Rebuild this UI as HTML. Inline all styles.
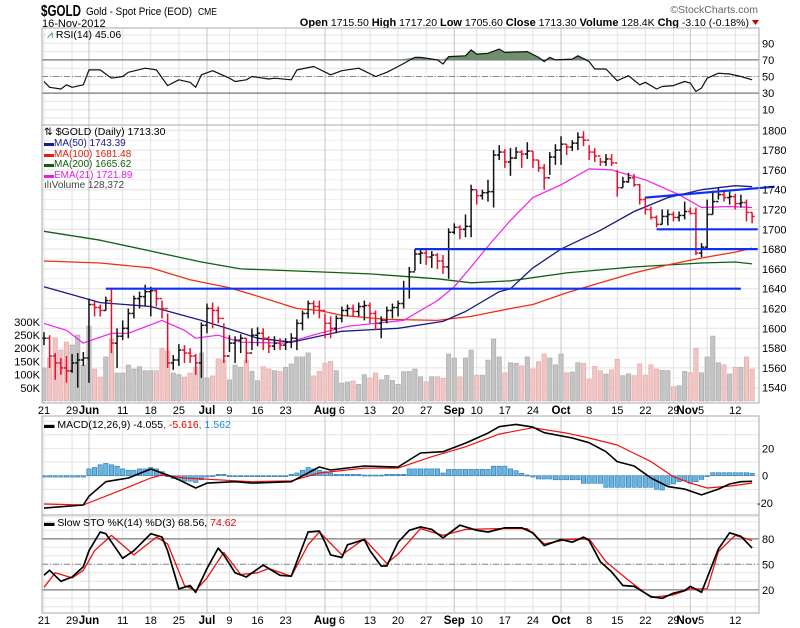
<!DOCTYPE html>
<html><head><meta charset="utf-8"><title>$GOLD chart</title>
<style>
html,body{margin:0;padding:0;background:#fff;}
svg{display:block;font-family:"Liberation Sans",sans-serif;}
</style></head>
<body>
<svg id="chart" width="800" height="628" viewBox="0 0 800 628" xmlns="http://www.w3.org/2000/svg">
<rect x="0" y="0" width="800" height="628" fill="#fff"/>
<g>
<text x="41" y="16" font-size="16" font-weight="bold" fill="#000" textLength="40" lengthAdjust="spacingAndGlyphs">$GOLD</text>
<text x="86" y="15" font-size="11" fill="#000" textLength="106" lengthAdjust="spacingAndGlyphs">Gold - Spot Price (EOD)</text>
<text x="198" y="15" font-size="10" fill="#000" textLength="19" lengthAdjust="spacingAndGlyphs">CME</text>
<text x="42" y="27" font-size="11" fill="#000">16-Nov-2012</text>
<text x="758" y="13" font-size="10.5" fill="#666" text-anchor="end">©StockCharts.com</text>
<text x="749" y="26" font-size="10.5" fill="#000" text-anchor="end"><tspan font-weight="bold" font-size="11">Open</tspan> 1715.50  <tspan font-weight="bold" font-size="11">High</tspan> 1717.20  <tspan font-weight="bold" font-size="11">Low</tspan> 1705.60  <tspan font-weight="bold" font-size="11">Close</tspan> 1713.30  <tspan font-weight="bold" font-size="11">Volume</tspan> 128.4K  <tspan font-weight="bold" font-size="11">Chg</tspan> -3.10 (-0.18%)</text>
<polygon points="752,20 759,20 755.5,25" fill="#c00"/>
</g>
<g id="grid"></g>
<g id="vol"></g>
<g id="lines"></g>
<g id="bars"></g>
<g id="annot"></g>
<g id="frames"></g>
<g id="labels"></g>
<g font-size="10.5">
<text x="47" y="38" fill="#000"><tspan fill="#3a7a3a">⩘</tspan> RSI(14) 45.06</text>
<text x="44" y="135" fill="#000">⇅ $GOLD (Daily) 1713.30</text>
<text x="44" y="146" fill="#1a1a8a" font-size="10">▬MA(50) 1743.39</text>
<text x="44" y="157" fill="#e02010" font-size="10">▬MA(100) 1681.48</text>
<text x="44" y="167" fill="#106010" font-size="10">▬MA(200) 1665.62</text>
<text x="44" y="178" fill="#e020e0" font-size="10">▬EMA(21) 1721.89</text>
<text x="44" y="188" fill="#444" font-size="10">ılıVolume 128,372</text>
<text x="44" y="428" fill="#000">▬ MACD(12,26,9) -4.055<tspan fill="#e00">, -5.616</tspan><tspan fill="#1a8ad0">, 1.562</tspan></text>
<text x="44" y="526" fill="#000">▬ Slow STO %K(14) %D(3) 68.56, <tspan fill="#e00">74.62</tspan></text>
</g>
</svg>
<script>
const closes=[1590,1572,1565,1560,1557,1565,1568,1570,1624,1621,1618,1628,1585,1592,1600,1615,1630,1632,1637,1638,1630,1620,1565,1568,1578,1575,1572,1565,1603,1620,1618,1610,1572,1585,1588,1590,1575,1593,1595,1590,1582,1585,1583,1586,1590,1605,1615,1625,1622,1618,1605,1600,1610,1618,1620,1617,1622,1623,1615,1605,1608,1618,1621,1625,1640,1657,1675,1676,1672,1674,1668,1662,1697,1702,1700,1703,1740,1734,1737,1738,1775,1778,1768,1772,1778,1776,1779,1770,1762,1752,1773,1780,1786,1783,1787,1793,1790,1778,1774,1768,1771,1767,1742,1748,1752,1745,1730,1720,1712,1705,1713,1715,1712,1714,1718,1716,1676,1682,1715,1728,1735,1732,1733,1726,1727,1717,1713];
const highs=[1596,1593,1575,1570,1572,1574,1575,1576,1630,1627,1624,1632,1640,1600,1608,1620,1633,1637,1644,1642,1640,1628,1615,1573,1584,1583,1580,1574,1606,1625,1626,1622,1605,1593,1592,1594,1590,1600,1601,1600,1592,1592,1590,1590,1595,1609,1618,1628,1628,1628,1615,1612,1613,1622,1624,1624,1626,1628,1626,1618,1612,1622,1625,1628,1648,1662,1680,1680,1680,1678,1676,1674,1701,1706,1704,1715,1745,1740,1740,1750,1780,1785,1781,1782,1783,1780,1788,1779,1770,1766,1778,1786,1794,1786,1790,1798,1799,1785,1782,1772,1776,1776,1760,1753,1757,1756,1746,1733,1723,1714,1720,1720,1718,1718,1728,1722,1722,1686,1730,1739,1742,1740,1738,1736,1735,1730,1717];
const lows=[1583,1560,1548,1553,1545,1555,1540,1562,1545,1612,1612,1618,1575,1560,1588,1590,1610,1620,1622,1612,1622,1610,1560,1558,1562,1565,1565,1553,1550,1595,1600,1605,1565,1576,1565,1575,1565,1578,1582,1578,1575,1578,1578,1578,1580,1578,1598,1610,1614,1610,1590,1590,1595,1606,1612,1612,1612,1608,1605,1598,1590,1605,1610,1612,1620,1630,1658,1665,1664,1661,1660,1655,1650,1695,1690,1692,1692,1725,1730,1728,1722,1770,1762,1754,1771,1762,1771,1762,1758,1740,1755,1765,1765,1775,1779,1780,1784,1770,1768,1764,1764,1764,1733,1742,1747,1743,1725,1715,1710,1702,1705,1704,1708,1708,1710,1715,1674,1672,1680,1715,1730,1728,1725,1720,1722,1708,1706];
const volumesK=[125,163,240,193,223,212,250,136,284,121,91,167,235,106,106,136,121,130,115,115,115,200,190,106,100,91,106,128,182,87,95,159,155,80,136,128,155,112,77,130,121,115,112,128,140,167,167,182,95,112,143,150,115,68,72,76,63,100,87,106,80,97,78,63,111,112,121,92,73,92,92,86,178,163,92,163,193,98,98,155,235,167,107,145,143,133,167,121,149,178,163,137,178,107,110,145,143,83,131,115,102,118,158,96,103,96,141,98,137,121,116,115,54,58,112,107,199,107,167,246,145,137,102,128,128,167,121];
const ma50Idx=[0,10,19,28,32,38,44,53,63,71,75,81,83,87,92,99,105,111,117,123,126];
const ma50Val=[1642,1626,1622,1608,1601,1590,1586,1597,1600,1607,1617,1637,1640,1661,1680,1699,1718,1732,1740,1744,1743];
const ma100Idx=[0,10,19,26,33,40,45,49,53,61,70,76,83,87,93,99,105,111,117,123,126];
const ma100Val=[1668,1666,1661,1649,1641,1629,1620,1618,1613,1609,1608,1612,1620,1624,1636,1646,1656,1664,1671,1677,1681];
const ma200Idx=[0,10,28,35,49,58,70,76,83,93,105,117,123,126];
const ma200Val=[1698,1689,1667,1660,1657,1655,1650,1646,1648,1656,1662,1666,1667,1665];
const emaIdx=[0,4,7,12,15,21,25,27,31,35,43,49,54,64,70,73,76,79,83,87,92,97,101,107,113,117,122,126];
const emaVal=[1605,1598,1585,1595,1595,1608,1598,1590,1593,1586,1585,1595,1602,1608,1628,1642,1662,1683,1709,1732,1745,1761,1760,1750,1735,1722,1723,1722];
const rsiIdx=[0,1,3,4,5,7,8,10,12,14,15,18,20,22,24,26,27,28,30,33,34,36,37,40,41,44,45,48,51,53,56,59,61,63,66,67,70,71,72,75,76,77,79,81,82,86,88,89,90,91,94,95,97,98,100,102,104,106,107,109,110,112,114,115,116,117,118,120,122,124,126];
const rsiVal=[44,37,35,40,37,40,58,58,48,50,55,60,58,39,46,43,37,52,57,48,44,46,50,47,48,46,58,62,52,57,60,50,55,62,73,73,70,65,74,75,82,77,78,83,79,80,73,68,73,70,71,75,68,59,59,45,51,40,43,35,38,39,44,42,32,36,48,54,53,50,46];
const macdIdx=[0,7,8,11,15,19,22,24,27,29,34,37,44,49,51,57,63,67,71,75,79,81,84,87,89,94,97,100,102,105,108,111,114,117,120,122,124,126];
const macdVal=[-23.7,-21.5,-15,-4.4,-1.7,4.9,0.5,-3,-9,-5.4,-4.4,-5.4,-4.4,6.4,4.2,7.1,6.4,16.6,17.6,23.9,31.2,35.9,37.6,35.6,31.5,27.6,24.2,17.6,10.3,7.1,-1.7,-8,-9.8,-14.1,-9.8,-6.1,-4.4,-4.1];
const signalIdx=[0,7,13,19,21,25,31,37,44,49,57,63,69,75,81,87,93,97,102,108,112,115,118,122,126];
const signalVal=[-20.7,-21.5,-11.7,-1.7,0.5,-1.7,-3,-4.4,-3.7,2,5.6,5.6,13.9,21.2,30.5,35.2,31.2,27.6,22.5,10.3,-0.7,-5.4,-9,-7.6,-5.4];
const histVal=[-1,-1,-1,-1,-1,-1,-1,-1,5,6,8,9,8,7,5,4,4,5,5,6,5,3,0,-2,-3,-4,-4,-5,-3,-1,0,1,1,0,0,-0.5,-0.5,-0.5,-0.5,-0.5,-0.5,-0.5,-0.5,0,1,2,4,6,5,4,3,2,1,1,1,1,1,0.5,0.5,0.5,0.5,1,1,1,1,5,5,5,5,5,5,2,4.6,4.6,4.6,4.6,4.6,4.6,4.6,4.6,7,7,7,5,3.7,1.7,0.5,-1,-2.4,-2.4,-2.4,-3,-3,-3,-3,-3,-5.6,-5.6,-5.6,-5.6,-8.5,-8.5,-8.5,-8.5,-8.5,-8.5,-8.5,-8.5,-8.5,-10,-10.5,-6.8,-6,-4.4,-3.7,-5.6,-4.4,-2.7,-0.7,2.2,2.2,2.2,2.2,2.2,2.2,2.2,1.8];
const stoKIdx=[0,1,3,5,7,8,10,11,14,16,19,21,22,24,26,27,29,31,32,34,36,39,42,44,47,49,50,51,53,54,57,58,60,61,63,65,67,69,71,74,77,79,82,85,87,89,92,94,96,97,99,101,103,105,108,110,112,114,115,117,120,122,124,126];
const stoKVal=[37,43,30,35,47,66,88,86,57,66,86,82,66,21,25,17,45,69,61,40,35,49,37,36,88,89,76,61,58,73,79,66,48,48,76,90,94,91,81,96,90,88,93,93,87,72,79,76,82,78,53,41,25,24,12,10,16,19,24,17,68,87,83,69];
const stoDIdx=[0,2,5,7,9,12,16,20,22,25,27,29,32,35,38,40,44,47,49,53,57,61,63,67,71,75,81,86,89,93,97,100,104,108,112,115,118,120,123,126];
const stoDVal=[23,40,34,43,66,84,61,82,74,25,19,34,64,38,40,45,36,73,88,61,80,51,62,92,84,91,92,92,74,79,80,53,31,11,14,21,21,65,84,78];
const dateLabels=["21","29","Jun","11","18","25","Jul","9","16","23","Aug","6","13","20","27","Sep","10","17","24","Oct","8","15","22","29","Nov","5","12"];
const dateIdx=[0,5,8,14,19,24,29,33,38,43,50,53,58,63,68,73,77,82,87,92,97,102,107,112,115,118,123];
const priceTicks=[1800,1780,1760,1740,1720,1700,1680,1660,1640,1620,1600,1580,1560,1540];
const volTicks=[300,250,200,150,100,50];
const rsiTicks=[90,70,50,30,10];
const macdTicks=[20,0,-20];
const stoTicks=[80,50,20];
const hLevels=[1640,1680,1700];
const hStartIdx=[11,66,109];
const hEndIdx=[124,127,127];
const trendIdx=[107,130];
const trendVal=[1732,1743];

const NS="http://www.w3.org/2000/svg";
const L=42,R=759;
const X=i=>44+5.62*i;
const yP=p=>229.3+(1700-p)*0.99;
const yV=v=>401-v*0.264;
const yR=v=>76.5-(v-50)*0.83;
const yM=v=>475.7-v*1.365;
const yS=v=>564.3-(v-50)*0.85;
function mk(tag,parent){const e=document.createElementNS(NS,tag);parent.appendChild(e);return e;}
const G=id=>document.getElementById(id);
const grid=G('grid'),vol=G('vol'),lines=G('lines'),bars=G('bars'),annot=G('annot'),frames=G('frames'),labels=G('labels');
const panels=[[28,125],[125,403],[416,515],[515,613]];
const monthNames=["Jun","Jul","Aug","Sep","Oct","Nov"];

function hline(y,color,w,dash,parent,name){
  const e=mk('line',parent);
  e.setAttribute('x1',L);e.setAttribute('x2',R);e.setAttribute('y1',y);e.setAttribute('y2',y);
  e.setAttribute('stroke',color);e.setAttribute('stroke-width',w);
  if(dash)e.setAttribute('stroke-dasharray',dash);
  
  
  return e;
}
for(let v=1540;v<=1800;v+=10){hline(yP(v),v%20===0?'#e2e2e2':'#efefef',1,null,grid,'price-gridline');}
for(let v=0;v<=100;v+=10){hline(yR(v),'#e6e6e6',1,null,grid,'rsi-gridline');}
for(let v=-30;v<=40;v+=10){hline(yM(v),'#e6e6e6',1,null,grid,'macd-gridline');}
for(let v=0;v<=100;v+=10){const y=yS(v);if(y>516&&y<612)hline(y,'#e6e6e6',1,null,grid,'sto-gridline');}
dateIdx.forEach((di,k)=>{
  const isM=monthNames.includes(dateLabels[k]);
  panels.forEach(p=>{
    const e=mk('line',grid);
    e.setAttribute('x1',X(di));e.setAttribute('x2',X(di));e.setAttribute('y1',p[0]);e.setAttribute('y2',p[1]);
    e.setAttribute('stroke',isM?'#c4c4c4':'#e2e2e2');e.setAttribute('stroke-width',1);
    
    
  });
});
hline(yR(70),'#777',1.2,null,grid,'rsi-70-line');
hline(yR(30),'#777',1.2,null,grid,'rsi-30-line');
hline(yR(50),'#888',1,'6,2,1,2',grid,'rsi-50-line');
hline(yS(80),'#999',1.6,null,grid,'sto-80-line');
hline(yS(20),'#999',1.6,null,grid,'sto-20-line');
hline(yS(50),'#888',1,'6,2,1,2',grid,'sto-50-line');

volumesK.forEach((v,i)=>{
  const up=i===0||closes[i]>=closes[i-1];
  const r=mk('rect',vol);
  r.setAttribute('x',X(i)-2.2);r.setAttribute('width',4.4);
  r.setAttribute('y',yV(v));r.setAttribute('height',401-yV(v));
  r.setAttribute('fill',up?'#c4c4c4':'#f2c4c4');
  r.setAttribute('stroke',up?'#a8a8a8':'#e0a8a8');r.setAttribute('stroke-width',0.6);
  
  
});

function poly(idx,val,yf,color,w,parent){
  const e=mk('polyline',parent);
  e.setAttribute('points',idx.map((d,k)=>X(d).toFixed(1)+','+yf(val[k]).toFixed(1)).join(' '));
  e.setAttribute('fill','none');e.setAttribute('stroke',color);e.setAttribute('stroke-width',w);
  e.setAttribute('stroke-linejoin','round');
  return e;
}
(function(){
  const pts=[];
  for(let k=0;k<rsiIdx.length;k++)pts.push([X(rsiIdx[k]),yR(Math.max(rsiVal[k],70))]);
  const e=mk('polygon',lines);
  e.setAttribute('points',pts.map(p=>p[0].toFixed(1)+','+p[1].toFixed(1)).join(' ')+' '+X(rsiIdx[rsiIdx.length-1])+','+yR(70)+' '+X(0)+','+yR(70));
  e.setAttribute('fill','#6f8f6f');e.setAttribute('stroke','none');
  
  
})();
let e;
e=poly(rsiIdx,rsiVal,yR,'#111',1.2,lines);


e=poly(ma200Idx,ma200Val,yP,'#106010',1.3,lines);


e=poly(ma100Idx,ma100Val,yP,'#f03010',1.3,lines);


e=poly(ma50Idx,ma50Val,yP,'#1a1a8a',1.3,lines);


e=poly(emaIdx,emaVal,yP,'#f020f0',1.2,lines);



histVal.forEach((v,i)=>{
  const r=mk('rect',lines);
  const y0=yM(0),y1=yM(v);
  r.setAttribute('x',X(i)-2.2);r.setAttribute('width',4.4);
  r.setAttribute('y',Math.min(y0,y1));r.setAttribute('height',Math.max(Math.abs(y1-y0),1));
  r.setAttribute('fill','#6ab4e0');r.setAttribute('stroke','#2a78b0');r.setAttribute('stroke-width',0.6);
  
  
});
e=poly(signalIdx,signalVal,yM,'#f01010',1.2,lines);


e=poly(macdIdx,macdVal,yM,'#000',1.6,lines);


e=poly(stoDIdx,stoDVal,yS,'#f01010',1.3,lines);


e=poly(stoKIdx,stoKVal,yS,'#000',1.7,lines);



closes.forEach((c,i)=>{
  const o=i===0?c:closes[i-1];
  const up=i===0||c>o;
  const col=up?'#111':'#e8102a';
  const g=mk('g',bars);
  g.setAttribute('stroke',col);g.setAttribute('stroke-width',1.5);
  
  
  const x=X(i);
  const v=mk('line',g);v.setAttribute('x1',x);v.setAttribute('x2',x);v.setAttribute('y1',yP(highs[i]));v.setAttribute('y2',yP(lows[i]));
  const lo=mk('line',g);lo.setAttribute('x1',x-2.5);lo.setAttribute('x2',x);lo.setAttribute('y1',yP(o));lo.setAttribute('y2',yP(o));
  const lc=mk('line',g);lc.setAttribute('x1',x);lc.setAttribute('x2',x+2.5);lc.setAttribute('y1',yP(c));lc.setAttribute('y2',yP(c));
});

hLevels.forEach((lv,k)=>{
  const l=mk('line',annot);
  l.setAttribute('x1',X(hStartIdx[k]));l.setAttribute('x2',Math.min(X(hEndIdx[k]),R));
  l.setAttribute('y1',yP(lv));l.setAttribute('y2',yP(lv));
  l.setAttribute('stroke','#1030f0');l.setAttribute('stroke-width',2.2);
  
  
});
{
  const l=mk('line',annot);
  l.setAttribute('x1',X(trendIdx[0]));l.setAttribute('x2',X(trendIdx[1]));
  l.setAttribute('y1',yP(trendVal[0]));l.setAttribute('y2',yP(trendVal[1]));
  l.setAttribute('stroke','#1030f0');l.setAttribute('stroke-width',2.2);
  
  
}

panels.forEach(p=>{
  const r=mk('rect',frames);
  r.setAttribute('x',L);r.setAttribute('y',p[0]);r.setAttribute('width',R-L);r.setAttribute('height',p[1]-p[0]);
  r.setAttribute('fill','none');r.setAttribute('stroke','#aaa');r.setAttribute('stroke-width',1);
  
  
});

function txt(s,x,y,anchor,size,bold,fill,parent){
  const t=mk('text',parent);
  t.setAttribute('x',x);t.setAttribute('y',y);t.setAttribute('text-anchor',anchor);
  t.setAttribute('font-size',size);if(bold)t.setAttribute('font-weight','bold');
  t.setAttribute('fill',fill||'#000');t.textContent=s;return t;
}
let t;
priceTicks.forEach(v=>{
  t=txt(String(v),762,yP(v)+4,'start',11,false,'#000',labels);
  
  
});
volTicks.forEach(v=>{
  t=txt(v+'K',40,yV(v)+4,'end',11,false,'#000',labels);
  
  
});
rsiTicks.forEach(v=>{
  t=txt(String(v),762,yR(v)+4,'start',11,false,'#000',labels);
  
  
});
macdTicks.forEach(v=>{
  t=txt(String(v),v<0?757:762,yM(v)+4,'start',11,false,'#000',labels);
  
  
});
stoTicks.forEach(v=>{
  t=txt(String(v),762,yS(v)+4,'start',11,false,'#000',labels);
  
  
});
[414,624].forEach(yy=>{
  dateIdx.forEach((di,k)=>{
    const s=dateLabels[k];const isM=monthNames.includes(s);
    let x=X(di);
    if(s==='Nov')x-=3;if(s==='5')x=701;
    t=txt(s,x,yy,'middle',isM?11.5:11,isM,'#000',labels);
    
    
  });
});
</script>
</body></html>
